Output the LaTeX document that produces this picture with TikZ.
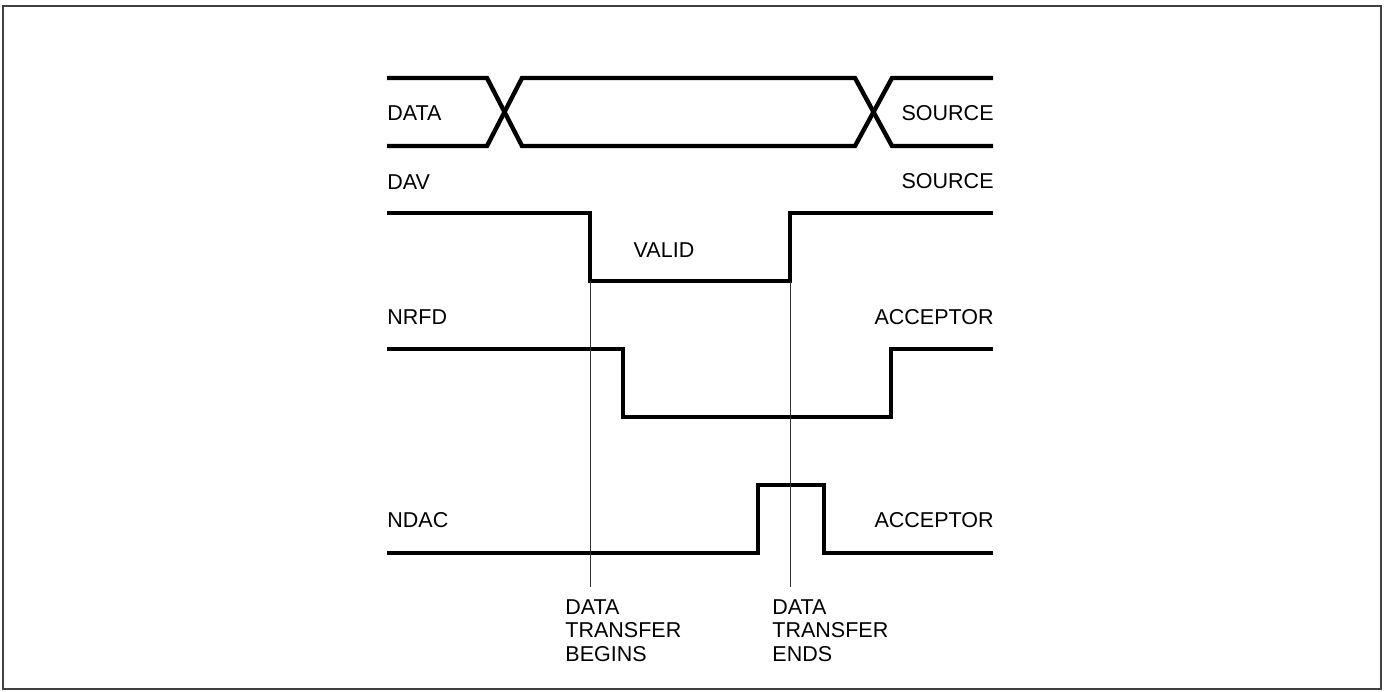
\documentclass[tikz,border=0pt]{standalone}
\usepackage{fontspec}
\setmainfont{Liberation Sans}
\usetikzlibrary{positioning}

\begin{document}
\begin{tikzpicture}[x=0.5pt, y=-0.5pt,
    signal/.style={line width=2.2pt, line join=miter},
    marker/.style={line width=0.5pt, black!80},
    lbl/.style={inner sep=0pt, font=\fontsize{10.75}{11.75}\selectfont}]
        \useasboundingbox (0,0) rectangle (1384,691);
        % Frame
        \draw[line width=0.8pt, black!75] (3,6) rectangle (1381,689);

        % Signal names
        \node[lbl, anchor=west] (data) at (387,113) {DATA};
        \node[lbl, anchor=west] (dav) at (387,182) {DAV};
        \node[lbl, anchor=west] (nrfd) at (387,317) {NRFD};
        \node[lbl, anchor=west] (ndac) at (387,520) {NDAC};

        % Driven by
        \node[lbl, anchor=east] (datasrc) at (994,113) {SOURCE};
        \node[lbl, anchor=east] (davsrc) at (994,181) {SOURCE};
        \node[lbl, anchor=east] (nrfdacc) at (994,317) {ACCEPTOR};
        \node[lbl, anchor=east] (ndacacc) at (994,520) {ACCEPTOR};
        \node[lbl] (valid) at (664,250) {VALID};

        % Waveforms
        \coordinate (davfall) at (590,281);
        \coordinate (davrise) at (790,281);
        \draw[signal] (387,78) -- (487,78) -- (522,146) -- (855,146) -- (892,78) -- (993,78);
        \draw[signal] (387,146) -- (487,146) -- (522,78) -- (855,78) -- (892,146) -- (993,146);
        \draw[signal] (387,213) -| (davfall) -- (davrise) |- (993,213);
        \draw[signal] (387,349) -| (623,417) -| (891,349) -- (993,349);
        \draw[signal] (387,553) -| (758,485) -| (824,553) -- (993,553);

        % Transfer markers
        \coordinate (markend) at (0,587);
        \node[lbl, align=left, anchor=north west] (begins) at (565,599) {DATA\\TRANSFER\\BEGINS};
        \node[lbl, align=left, anchor=north west] (ends) at (772,599) {DATA\\TRANSFER\\ENDS};
        \draw[marker] (davfall) -- (davfall |- markend);
        \draw[marker] (davrise) -- (davrise |- markend);
    \end{tikzpicture}
\end{document}
